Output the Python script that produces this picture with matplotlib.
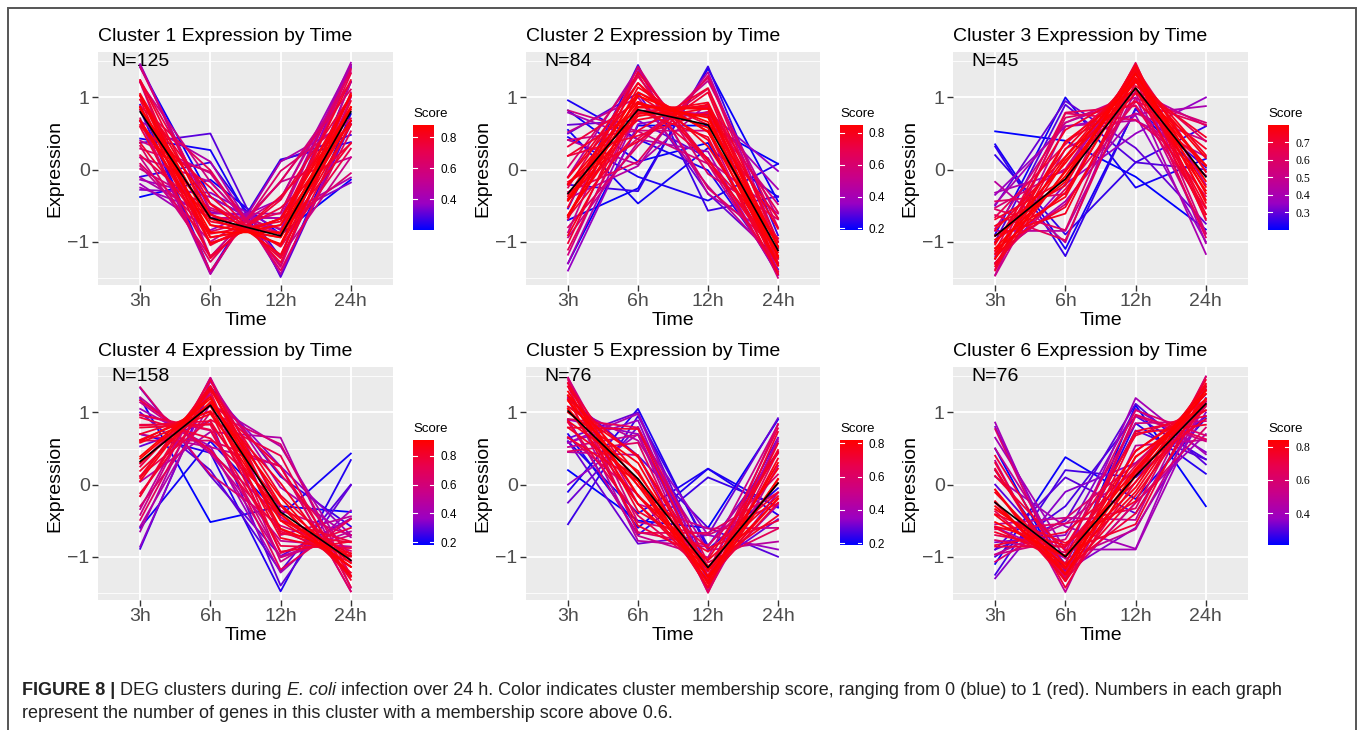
import numpy as np
import matplotlib.pyplot as plt
from matplotlib.colors import LinearSegmentedColormap, Normalize
from matplotlib.patches import Rectangle

plt.rcParams['font.family'] = ['Liberation Sans', 'DejaVu Sans']

times = ['3h', '6h', '12h', '24h']
n_genes = [125, 84, 45, 158, 76, 76]

# cluster centroids (black line)
centers = [
    [0.80, -0.67, -0.92, 0.80],
    [-0.33, 0.83, 0.62, -1.12],
    [-0.92, -0.13, 1.13, -0.10],
    [0.32, 1.10, -0.38, -1.05],
    [1.02, 0.08, -1.15, 0.02],
    [-0.25, -1.00, 0.12, 1.12],
]

# standardised gene profiles: 3h, 6h, 12h, 24h, membership score
c1_genes = [
    [0.87, -0.87, -0.87, 0.87, 0.88], [0.86, -0.68, -1.03, 0.86, 0.87],
    [1.03, -0.77, -0.94, 0.68, 0.86], [0.68, -0.77, -0.94, 1.03, 0.86],
    [1.03, -0.94, -0.77, 0.68, 0.85], [0.68, -0.94, -0.77, 1.03, 0.85],
    [0.83, -0.48, -1.18, 0.83, 0.83], [0.86, -1.03, -0.68, 0.86, 0.84],
    [1.05, -0.62, -1.05, 0.62, 0.82], [0.62, -0.62, -1.05, 1.05, 0.82],
    [0.68, -1.02, -0.68, 1.02, 0.81], [1.02, -1.02, -0.68, 0.68, 0.81],
    [1.24, -0.72, -0.89, 0.37, 0.78], [0.37, -0.89, -0.72, 1.24, 0.78],
    [0.97, -0.37, -1.23, 0.63, 0.77], [0.97, -1.23, -0.37, 0.63, 0.77],
    [0.60, -0.25, -1.29, 0.95, 0.75], [0.59, -1.20, -0.42, 1.02, 0.75],
    [1.22, -1.05, -0.53, 0.36, 0.74], [0.20, -0.63, -0.89, 1.33, 0.72],
    [1.24, -0.47, -1.07, 0.29, 0.72], [0.08, -0.86, -0.60, 1.38, 0.66],
    [0.88, -0.01, -1.40, 0.53, 0.68], [0.71, -1.41, -0.02, 0.71, 0.64],
    [1.42, -0.56, -0.82, -0.05, 0.62], [0.33, -1.28, -0.16, 1.11, 0.66],
    [0.29, -0.03, -1.33, 1.07, 0.62], [-0.25, -0.61, -0.61, 1.48, 0.42],
    [1.21, -0.17, -1.21, 0.17, 0.55], [0.17, -1.21, -0.17, 1.21, 0.55],
    [1.21, -1.21, -0.17, 0.17, 0.52], [0.17, -0.17, -1.21, 1.21, 0.52],
    [-0.11, -0.67, -0.67, 1.45, 0.45], [0.67, 0.11, -1.45, 0.67, 0.45],
    [0.67, -1.45, 0.11, 0.67, 0.45], [1.45, -0.67, -0.67, -0.11, 0.45],
    [0.01, -0.53, -0.88, 1.40, 0.58], [0.40, -0.05, -1.35, 1.00, 0.55],
    [0.05, -1.00, -0.40, 1.35, 0.55], [-0.20, -0.84, -0.41, 1.45, 0.40],
    [-0.28, -0.32, -0.84, 1.45, 0.35],
    [-0.14, -0.38, -0.90, 1.42, 0.38], [1.46, -0.59, -0.68, -0.18, 0.35],
    [0.37, 0.50, -1.49, 0.63, 0.30], [0.83, -1.44, 0.12, 0.48, 0.28],
    [0.90, -1.42, 0.14, 0.38, 0.25], [-0.10, 0.10, -1.22, 1.22, 0.25],
    [0.43, 0.27, -1.47, 0.77, 0.22], [1.42, -0.38, -0.90, -0.14, 0.20],
    [-0.38, -0.14, -0.90, 1.42, 0.20],
]

c2_genes = [
    [-0.43, 0.91, 0.72, -1.21, 0.85], [-0.41, 1.07, 0.53, -1.19, 0.84],
    [-0.20, 0.94, 0.58, -1.32, 0.83], [-0.63, 1.02, 0.66, -1.06, 0.84],
    [-0.21, 0.78, 0.76, -1.33, 0.82], [-0.64, 0.86, 0.84, -1.07, 0.83],
    [-0.37, 1.20, 0.32, -1.15, 0.80], [-0.43, 0.74, 0.90, -1.21, 0.81],
    [-0.11, 1.03, 0.41, -1.33, 0.78], [-0.66, 1.14, 0.52, -1.00, 0.80],
    [-0.63, 0.77, 0.93, -1.07, 0.79], [-0.20, 0.69, 0.85, -1.33, 0.78],
    [0.19, 0.81, 0.45, -1.45, 0.76], [-0.91, 0.87, 0.86, -0.82, 0.78],
    [-0.11, 1.20, 0.14, -1.24, 0.76], [-0.17, 0.39, 1.07, -1.29, 0.75],
    [-0.52, 1.35, 0.12, -0.95, 0.74], [-0.66, 0.54, 1.13, -1.00, 0.75],
    [0.19, 0.47, 0.80, -1.45, 0.72], [-1.02, 1.07, 0.62, -0.67, 0.73],
    [0.32, 0.94, 0.15, -1.41, 0.72], [-1.11, 0.81, 0.88, -0.59, 0.66],
    [0.03, 1.32, -0.26, -1.09, 0.62], [-0.31, 0.11, 1.30, -1.09, 0.64],
    [0.82, 0.53, 0.08, -1.43, 0.55], [-0.80, 0.33, 1.27, -0.80, 0.62],
    [-0.69, 1.43, -0.06, -0.69, 0.60],
    [0.52, 1.00, -0.23, -1.29, 0.50], [-0.94, 0.38, 1.23, -0.68, 0.50],
    [0.41, 0.07, 0.92, -1.41, 0.45], [-0.87, 1.36, 0.13, -0.61, 0.52],
    [0.79, 0.42, 0.25, -1.46, 0.40], [-1.18, 0.92, 0.74, -0.48, 0.55],
    [-0.40, 0.05, 1.35, -1.01, 0.45], [-0.10, 1.40, -0.34, -0.96, 0.45],
    [0.41, 0.54, 0.54, -1.50, 0.55], [-1.30, 0.78, 0.78, -0.27, 0.40],
    [-0.34, 0.43, 1.12, -1.21, 0.68], [-0.25, 1.29, 0.08, -1.12, 0.68],
    [0.50, 1.06, -0.33, -1.23, 0.30], [-0.21, -0.30, 1.43, -0.91, 0.25],
    [-0.54, 1.45, -0.57, -0.37, 0.25], [0.96, 0.42, -0.01, -1.38, 0.22],
    [-1.40, 0.63, 0.80, -0.02, 0.35], [-0.70, -0.26, 1.40, -0.44, 0.20],
    [0.82, 0.11, 0.37, -1.30, 0.20], [-1.30, 0.61, 0.61, 0.08, 0.19],
    [0.62, 0.68, 0.16, -1.46, 0.30], [0.55, -0.47, 0.30, -0.38, 0.21],
    [0.45, -0.10, -0.43, 0.08, 0.22],
]

c3_genes = [
    [-1.09, -0.09, 1.33, -0.16, 0.80], [-1.17, 0.17, 1.24, -0.24, 0.79],
    [-1.01, 0.09, 1.34, -0.42, 0.78], [-1.23, -0.03, 1.22, 0.05, 0.79],
    [-0.92, -0.17, 1.42, -0.33, 0.78], [-1.12, -0.32, 1.27, 0.16, 0.77],
    [-1.23, 0.39, 1.12, -0.29, 0.76], [-0.97, -0.38, 1.38, -0.03, 0.76],
    [-1.02, 0.28, 1.27, -0.52, 0.74], [-1.31, 0.13, 1.12, 0.06, 0.75],
    [-0.91, -0.61, 1.32, 0.20, 0.74], [-0.78, -0.22, 1.46, -0.46, 0.74],
    [-0.84, 0.18, 1.34, -0.68, 0.73], [-1.34, -0.01, 1.06, 0.29, 0.73],
    [-1.04, 0.55, 1.11, -0.62, 0.72], [-1.09, -0.52, 1.16, 0.45, 0.72],
    [-0.69, -0.14, 1.45, -0.62, 0.72], [-1.40, 0.39, 0.95, 0.06, 0.70],
    [-0.66, 0.35, 1.25, -0.94, 0.64], [-0.63, -0.98, 1.22, 0.39, 0.62],
    [-1.14, 0.79, 0.88, -0.54, 0.64], [-1.29, -0.27, 0.94, 0.62, 0.62],
    [-0.44, -0.34, 1.48, -0.70, 0.60], [-1.38, 0.78, 0.69, -0.08, 0.60],
    [-0.17, -1.01, 1.38, -0.21, 0.45], [-1.47, 0.29, 0.78, 0.40, 0.50],
    [-0.82, 0.65, 1.06, -0.89, 0.50], [-0.85, -0.85, 1.09, 0.61, 0.45],
    [-0.53, 0.01, 1.40, -0.88, 0.55], [-1.17, -0.48, 0.99, 0.65, 0.55],
    [-1.24, 0.72, 0.89, -0.37, 0.60], [-0.55, -0.84, 1.41, -0.03, 0.60],
    [-1.46, 0.60, 0.68, 0.18, 0.45], [-0.32, -0.02, 1.36, -1.02, 0.40],
    [-1.20, -0.44, 0.77, 0.88, 0.40], [-0.48, 0.65, 1.00, -1.17, 0.40],
    [0.32, -1.20, 0.85, 0.03, 0.25], [0.35, -1.10, 0.84, -0.09, 0.22],
    [-0.90, 1.00, -0.25, 0.15, 0.22], [-0.50, 0.95, 0.30, -0.75, 0.30],
    [-0.35, 0.60, 0.75, -1.00, 0.35], [-1.30, -0.20, 0.50, 1.00, 0.35],
    [0.20, -0.90, 0.10, 0.60, 0.25], [-1.00, 0.90, 0.10, 0.00, 0.28],
    [0.53, 0.40, -0.10, -0.83, 0.20],
]

c4_genes = [
    [0.36, 1.19, -0.41, -1.14, 0.91], [0.39, 1.22, -0.61, -0.99, 0.89],
    [0.30, 1.14, -0.18, -1.26, 0.88], [0.62, 1.02, -0.50, -1.14, 0.87],
    [0.05, 1.32, -0.28, -1.09, 0.86], [0.58, 0.98, -0.29, -1.27, 0.85],
    [0.09, 1.36, -0.49, -0.96, 0.84], [0.60, 1.09, -0.74, -0.95, 0.84],
    [0.19, 1.11, 0.02, -1.32, 0.82], [0.79, 0.84, -0.41, -1.22, 0.80],
    [-0.16, 1.36, -0.15, -1.05, 0.80], [0.11, 1.37, -0.68, -0.80, 0.78],
    [0.82, 0.88, -0.62, -1.08, 0.78], [0.70, 1.01, -0.93, -0.79, 0.80],
    [-0.12, 1.15, 0.24, -1.27, 0.78], [0.93, 0.64, -0.29, -1.28, 0.77],
    [-0.16, 1.45, -0.50, -0.79, 0.76], [0.97, 0.76, -0.85, -0.88, 0.75],
    [0.12, 0.90, 0.40, -1.42, 0.74], [0.25, 1.29, -0.95, -0.60, 0.75],
    [1.17, 0.48, -0.65, -1.00, 0.74], [-0.49, 1.33, 0.14, -0.98, 0.68],
    [0.83, 0.83, -1.18, -0.48, 0.70], [0.61, 0.61, 0.25, -1.48, 0.66],
    [-0.30, 1.00, 0.56, -1.26, 0.62], [1.35, 0.14, -0.57, -0.92, 0.62],
    [0.70, 0.52, 0.26, -1.48, 0.50], [-0.34, 1.48, -0.70, -0.44, 0.50],
    [0.96, 0.75, -1.01, -0.70, 0.58], [-0.58, 1.12, 0.53, -1.07, 0.45],
    [1.14, 0.45, -0.45, -1.14, 0.55], [0.29, 1.25, -1.07, -0.47, 0.55],
    [0.04, 0.73, 0.65, -1.43, 0.45], [-0.65, 1.43, -0.04, -0.73, 0.45],
    [1.21, 0.43, -0.78, -0.86, 0.52], [-0.42, 1.48, -0.36, -0.70, 0.55],
    [1.17, 0.48, -1.00, -0.65, 0.50],
    [1.05, 0.53, -1.22, -0.36, 0.40], [-0.86, 1.31, 0.25, -0.70, 0.35],
    [0.53, 0.88, -1.40, -0.01, 0.30], [1.34, 0.12, -0.99, -0.47, 0.30],
    [0.70, 0.44, -1.48, 0.34, 0.22], [-0.89, 1.36, 0.11, -0.58, 0.25],
    [1.00, 0.20, -1.20, 0.00, 0.28], [-0.60, 0.60, -0.43, 0.43, 0.20],
    [1.20, -0.52, -0.30, -0.38, 0.18],
]

c5_genes = [
    [1.16, 0.05, -1.28, 0.07, 0.82], [1.05, -0.01, -1.34, 0.30, 0.81],
    [1.24, 0.15, -1.19, -0.20, 0.80], [1.29, -0.16, -1.15, 0.02, 0.80],
    [1.00, 0.30, -1.38, 0.08, 0.79], [1.23, -0.27, -1.17, 0.22, 0.78],
    [1.08, 0.40, -1.28, -0.19, 0.77], [0.88, 0.19, -1.43, 0.36, 0.76],
    [1.36, -0.15, -1.05, -0.16, 0.76], [1.05, -0.27, -1.26, 0.48, 0.74],
    [1.18, 0.38, -1.13, -0.43, 0.74], [0.79, 0.08, -1.43, 0.57, 0.74],
    [1.41, -0.37, -0.93, -0.11, 0.73], [1.18, -0.57, -1.04, 0.44, 0.73],
    [0.79, 0.77, -1.31, -0.25, 0.72], [0.65, 0.05, -1.43, 0.73, 0.72],
    [1.40, -0.02, -0.88, -0.50, 0.70], [0.86, -0.43, -1.21, 0.78, 0.66],
    [0.91, 0.79, -1.08, -0.61, 0.64], [1.45, -0.67, -0.67, -0.11, 0.62],
    [0.46, 0.58, -1.50, 0.46, 0.62],
    [1.48, -0.27, -0.61, -0.60, 0.50], [0.52, 0.69, -1.48, 0.26, 0.50],
    [0.89, -0.71, -1.01, 0.83, 0.50], [1.08, 0.61, -0.91, -0.79, 0.45],
    [0.66, -0.14, -1.36, 0.84, 0.60], [1.36, -0.66, -0.84, 0.14, 0.60],
    [0.58, 0.98, -1.28, -0.28, 0.40], [1.21, -0.78, -0.86, 0.43, 0.45],
    [0.45, 0.41, -1.49, 0.63, 0.45], [1.48, -0.52, -0.70, -0.26, 0.55],
    [0.58, 0.89, -1.36, -0.11, 0.35], [0.64, 1.00, -1.16, -0.48, 0.30],
    [0.60, -0.40, 0.22, -0.42, 0.22], [-0.55, 0.95, -0.85, 0.45, 0.25],
    [-0.25, 0.80, -1.20, 0.65, 0.30], [0.00, 0.70, -1.30, 0.60, 0.35],
    [-0.10, 1.05, -0.90, -0.05, 0.22], [1.20, 0.40, -0.60, -1.00, 0.28],
    [0.90, 0.70, -0.70, -0.90, 0.35], [0.70, -0.60, 0.22, -0.32, 0.22],
    [0.90, -0.70, 0.10, -0.30, 0.25], [0.60, -0.82, -0.70, 0.92, 0.30],
    [0.20, -0.50, -0.60, 0.90, 0.19],
]

c6_genes = [
    [-0.30, -1.14, 0.18, 1.26, 0.84], [-0.52, -1.00, 0.22, 1.30, 0.83],
    [-0.07, -1.25, 0.12, 1.19, 0.82], [-0.24, -1.25, 0.38, 1.11, 0.82],
    [-0.34, -1.00, -0.04, 1.38, 0.80], [-0.42, -1.17, 0.47, 1.11, 0.80],
    [-0.11, -1.11, -0.10, 1.32, 0.78], [-0.58, -0.84, 0.03, 1.40, 0.77],
    [-0.07, -1.34, 0.39, 1.03, 0.77], [-0.66, -0.98, 0.46, 1.18, 0.76],
    [0.20, -1.24, -0.15, 1.19, 0.76], [-0.23, -1.32, 0.71, 0.83, 0.75],
    [-0.41, -0.81, -0.23, 1.45, 0.75], [-0.60, -1.09, 0.74, 0.95, 0.74],
    [0.12, -0.92, -0.55, 1.35, 0.74], [-0.84, -0.66, 0.14, 1.36, 0.73],
    [0.30, -1.43, 0.21, 0.91, 0.73], [-0.86, -0.86, 0.68, 1.03, 0.72],
    [0.40, -1.16, -0.40, 1.16, 0.72], [-0.37, -1.23, 0.97, 0.63, 0.66],
    [-0.62, -0.54, -0.33, 1.49, 0.64], [-0.77, -0.94, 1.03, 0.68, 0.62],
    [0.77, -1.31, -0.25, 0.79, 0.60], [-1.07, -0.47, 0.29, 1.25, 0.60],
    [0.33, -1.49, 0.54, 0.62, 0.50], [-0.55, -0.46, -0.49, 1.50, 0.50],
    [-0.97, -0.76, 0.85, 0.88, 0.55], [0.50, -1.03, -0.62, 1.15, 0.50],
    [-0.25, -1.29, 0.95, 0.60, 0.55], [-0.97, -0.54, 0.19, 1.32, 0.50],
    [0.86, -1.31, -0.25, 0.70, 0.40], [0.11, -0.58, -0.89, 1.36, 0.40],
    [-0.59, -1.02, 1.20, 0.42, 0.40], [-0.70, -0.87, 0.26, 1.30, 0.68],
    [0.22, -1.34, 0.04, 1.08, 0.68],
    [-1.10, 0.38, -0.20, 0.92, 0.22], [-1.25, 0.20, 0.10, 0.95, 0.28],
    [-0.90, 0.10, -0.40, 1.20, 0.30], [-1.30, -0.10, 0.30, 1.10, 0.35],
    [-0.90, -0.50, 1.12, 0.28, 0.30], [-0.80, -0.70, 1.05, 0.45, 0.35],
    [-1.00, -0.30, 0.95, 0.35, 0.28], [0.50, -1.30, 1.10, -0.30, 0.21],
    [0.20, -1.20, 0.85, 0.15, 0.25], [0.00, -1.10, 0.75, 0.35, 0.30],
    [0.65, -0.90, -0.90, 1.15, 0.40], [0.80, -1.20, -0.60, 1.00, 0.35],
]

bar_ticks = [
    [0.4, 0.6, 0.8],
    [0.2, 0.4, 0.6, 0.8],
    [0.3, 0.4, 0.5, 0.6, 0.7],
    [0.2, 0.4, 0.6, 0.8],
    [0.2, 0.4, 0.6, 0.8],
    [0.4, 0.6, 0.8],
]

clusters = [c1_genes, c2_genes, c3_genes, c4_genes, c5_genes, c6_genes]

W, H = 1358, 730
fig = plt.figure(figsize=(W / 100, H / 100), dpi=100)


def px_axes(x0, y0, x1, y1):
    return fig.add_axes([x0 / W, 1 - y1 / H, (x1 - x0) / W, (y1 - y0) / H])


# blue -> red through Lab space, like ggplot's default gradient
cmap = LinearSegmentedColormap.from_list(
    'score', ['#0000FF', '#9A00C3', '#C90089', '#E8004F', '#FF0000'])

panel_x = [(98, 393), (526, 820), (953, 1248)]
panel_y = [(52, 285), (367, 600)]
bar_x = [(413, 434), (840, 862), (1268, 1289)]
bar_y = [(125, 230), (440, 545)]

for i in range(6):
    r, c = divmod(i, 3)
    ax = px_axes(panel_x[c][0], panel_y[r][0], panel_x[c][1], panel_y[r][1])
    ax.set_facecolor('#EBEBEB')
    for s in ax.spines.values():
        s.set_visible(False)

    genes = np.array(clusters[i])
    expr, score = genes[:, :4], genes[:, 4]
    norm = Normalize(score.min(), score.max())
    x = np.arange(1, 5)
    # low scores first so the red profiles end up on top
    for k in np.argsort(score, kind='stable'):
        ax.plot(x, expr[k], color=cmap(norm(score[k])), lw=1.3)
    ax.plot(x, centers[i], color='black', lw=1.2)
    # count label sits under the profiles
    ax.text(1, 1.5, f'N={n_genes[i]}', ha='center', va='center', fontsize=14,
            zorder=1.5)

    ax.set_xlim(0.4, 4.6)
    ax.set_ylim(-1.6, 1.63)
    ax.set_xticks(x)
    ax.set_xticklabels(times)
    ax.set_yticks([-1, 0, 1])
    ax.set_yticklabels(['\u22121', '0', '1'])
    ax.set_yticks([-1.5, -0.5, 0.5, 1.5], minor=True)
    ax.set_axisbelow(True)
    ax.grid(which='major', color='white', lw=1.3)
    ax.grid(which='minor', axis='y', color='white', lw=0.6)
    ax.tick_params(which='major', length=4, width=1, color='#333333',
                   labelcolor='#4D4D4D', labelsize=14, pad=2)
    ax.tick_params(which='minor', length=0)
    ax.set_xlabel('Time', fontsize=14, labelpad=1)
    ax.set_ylabel('Expression', fontsize=14, labelpad=3)
    ax.set_title(f'Cluster {i + 1} Expression by Time', loc='left', fontsize=14, pad=8)

    # colour bar legend
    cax = px_axes(bar_x[c][0], bar_y[r][0], bar_x[c][1], bar_y[r][1])
    lo, hi = score.min(), score.max()
    grad = np.linspace(lo, hi, 256).reshape(-1, 1)
    cax.imshow(grad, cmap=cmap, norm=norm, aspect='auto', origin='lower',
               extent=(0, 1, lo, hi))
    cax.set_xlim(0, 1)
    cax.set_ylim(lo, hi)
    cax.set_xticks([])
    cax.yaxis.tick_right()
    cax.set_yticks(bar_ticks[i])
    cax.set_yticklabels([f'{t:.1f}' for t in bar_ticks[i]])
    tick_font = 'Liberation Serif' if c == 2 else 'Liberation Sans'
    for lab in cax.get_yticklabels():
        lab.set_family(tick_font)
    cax.tick_params(length=0, labelsize=8.5, pad=5)
    for t in bar_ticks[i]:
        cax.plot([0, 0.2], [t, t], color='white', lw=0.8)
        cax.plot([0.8, 1], [t, t], color='white', lw=0.8)
    for s in cax.spines.values():
        s.set_visible(False)
    cax.text(0, 1.05, 'Score', transform=cax.transAxes, fontsize=9.5,
             ha='left', va='bottom')

# frame round the figure
fig.add_artist(Rectangle((8 / W, -0.05), (1356 - 8) / W, 1 - 8 / H + 0.05,
                         transform=fig.transFigure, fill=False,
                         ec='#555555', lw=1.4))

# caption
renderer = fig.canvas.get_renderer()
cap_size = 13
space = 0.28 * cap_size * 100 / 72


def caption_line(parts, x, y):
    for text, kw in parts:
        t = fig.text(x / W, 1 - y / H, text, fontsize=cap_size, va='baseline',
                     color='#222222', **kw)
        x += t.get_window_extent(renderer).width + space


caption_line([
    ('FIGURE 8 |', {'weight': 'bold'}),
    ('DEG clusters during', {}),
    ('E. coli', {'style': 'italic'}),
    ('infection over 24 h. Color indicates cluster membership score, ranging from '
     '0 (blue) to 1 (red). Numbers in each graph', {}),
], 22, 695)
caption_line([
    ('represent the number of genes in this cluster with a membership score above 0.6.', {}),
], 22, 718)

fig.savefig('out.png', dpi=100)
